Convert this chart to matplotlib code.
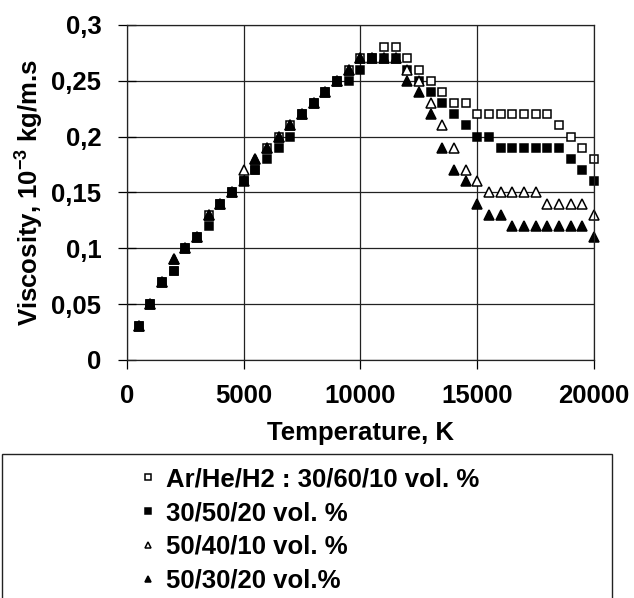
import matplotlib
matplotlib.use("Agg")
import matplotlib.pyplot as plt
from matplotlib.patches import Rectangle
from matplotlib.ticker import MultipleLocator, FuncFormatter

plt.rcParams['font.family'] = ['Liberation Sans', 'DejaVu Sans']
plt.rcParams['font.weight'] = 'bold'
plt.rcParams['mathtext.fontset'] = 'custom'
plt.rcParams['mathtext.rm'] = 'Liberation Sans:bold'
plt.rcParams['mathtext.bf'] = 'Liberation Sans:bold'
plt.rcParams['mathtext.default'] = 'bf'

temperature = [500, 1000, 1500, 2000, 2500, 3000, 3500, 4000, 4500, 5000,
               5500, 6000, 6500, 7000, 7500, 8000, 8500, 9000, 9500, 10000,
               10500, 11000, 11500, 12000, 12500, 13000, 13500, 14000, 14500, 15000,
               15500, 16000, 16500, 17000, 17500, 18000, 18500, 19000, 19500, 20000]

# Ar/He/H2 : 30/60/10 vol. %
mix_30_60_10 = [0.03, 0.05, 0.07, 0.08, 0.10, 0.11, 0.13, 0.14, 0.15, 0.16,
                0.17, 0.19, 0.20, 0.21, 0.22, 0.23, 0.24, 0.25, 0.26, 0.27,
                0.27, 0.28, 0.28, 0.27, 0.26, 0.25, 0.24, 0.23, 0.23, 0.22,
                0.22, 0.22, 0.22, 0.22, 0.22, 0.22, 0.21, 0.20, 0.19, 0.18]
# 30/50/20 vol. %
mix_30_50_20 = [0.03, 0.05, 0.07, 0.08, 0.10, 0.11, 0.12, 0.14, 0.15, 0.16,
                0.17, 0.18, 0.19, 0.20, 0.22, 0.23, 0.24, 0.25, 0.25, 0.26,
                0.27, 0.27, 0.27, 0.26, 0.25, 0.24, 0.23, 0.22, 0.21, 0.20,
                0.20, 0.19, 0.19, 0.19, 0.19, 0.19, 0.19, 0.18, 0.17, 0.16]
# 50/40/10 vol. %
mix_50_40_10 = [0.03, 0.05, 0.07, 0.09, 0.10, 0.11, 0.13, 0.14, 0.15, 0.17,
                0.18, 0.19, 0.20, 0.21, 0.22, 0.23, 0.24, 0.25, 0.26, 0.27,
                0.27, 0.27, 0.27, 0.26, 0.25, 0.23, 0.21, 0.19, 0.17, 0.16,
                0.15, 0.15, 0.15, 0.15, 0.15, 0.14, 0.14, 0.14, 0.14, 0.13]
# 50/30/20 vol.%
mix_50_30_20 = [0.03, 0.05, 0.07, 0.09, 0.10, 0.11, 0.13, 0.14, 0.15, 0.16,
                0.18, 0.19, 0.20, 0.21, 0.22, 0.23, 0.24, 0.25, 0.26, 0.27,
                0.27, 0.27, 0.27, 0.25, 0.24, 0.22, 0.19, 0.17, 0.16, 0.14,
                0.13, 0.13, 0.12, 0.12, 0.12, 0.12, 0.12, 0.12, 0.12, 0.11]

labels = ["Ar/He/H2 : 30/60/10 vol. %", "30/50/20 vol. %",
          "50/40/10 vol. %", "50/30/20 vol.%"]

fs = 18.5

fig = plt.figure(figsize=(6.34, 5.98), dpi=100)
ax = fig.add_axes([0.2003, 0.398, 0.7366, 0.5602])

ms = 6.0
h1, = ax.plot(temperature, mix_30_60_10, ls="none", marker="s", ms=ms,
              mfc="white", mec="black", mew=1.1, clip_on=False, label=labels[0])
h2, = ax.plot(temperature, mix_30_50_20, ls="none", marker="s", ms=ms,
              mfc="black", mec="black", mew=1.1, clip_on=False, label=labels[1])
h3, = ax.plot(temperature, mix_50_40_10, ls="none", marker="^", ms=ms + 0.7,
              mfc="white", mec="black", mew=1.1, clip_on=False, label=labels[2])
h4, = ax.plot(temperature, mix_50_30_20, ls="none", marker="^", ms=ms + 0.7,
              mfc="black", mec="black", mew=1.1, clip_on=False, label=labels[3])

ax.set_xlim(0, 20000)
ax.set_ylim(0, 0.3)
ax.xaxis.set_major_locator(MultipleLocator(5000))
ax.yaxis.set_major_locator(MultipleLocator(0.05))
ax.yaxis.set_major_formatter(FuncFormatter(lambda v, p: ("%g" % round(v, 2)).replace(".", ",")))
ax.grid(True, color="#222222", lw=0.9)
for s in ax.spines.values():
    s.set_color("#222222")
    s.set_linewidth(0.9)
ax.tick_params(axis="x", direction="out", length=6.5, width=0.9, pad=11, labelsize=fs)
ax.tick_params(axis="y", direction="inout", length=13, width=0.9, pad=12, labelsize=fs)

ax.set_xlabel("Temperature, K", fontsize=fs, fontweight="bold", labelpad=9)
ax.set_ylabel(r"Viscosity, 10$^{-3}$ kg/m.s", fontsize=fs, fontweight="bold", labelpad=4)

# legend box reaching past the bottom edge
fig.patches.append(Rectangle((2 / 634, -0.05), 610 / 634, 0.05 + (598 - 454) / 598,
                             transform=fig.transFigure, fill=False,
                             edgecolor="#222222", lw=1.0))
fig.legend(handles=[h1, h2, h3, h4], loc="upper left",
           bbox_to_anchor=(126 / 634, 1 - 452 / 598), frameon=False,
           fontsize=fs, markerscale=0.65, handlelength=0.5, handletextpad=0.45,
           labelspacing=0.38, borderpad=0.1)

fig.savefig("out.png", dpi=100)
